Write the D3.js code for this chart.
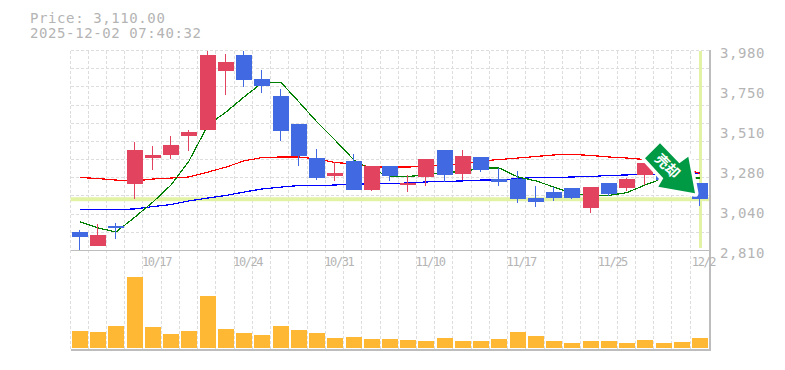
<!DOCTYPE html>
<html>
<head>
<meta charset="utf-8">
<script src="https://cdn.jsdelivr.net/npm/d3@7/dist/d3.min.js"></script>
<style>
html,body{margin:0;padding:0;background:#fff;}
svg{display:block;}
text{font-family:"DejaVu Sans Mono",monospace;fill:#b4b4b4;}
</style>
</head>
<body>
<svg id="c" width="785" height="370"></svg>
<script>
const dates = ["10/10","10/14","10/15","10/16","10/17","10/20","10/21","10/22","10/23","10/24","10/27","10/28","10/29","10/30","10/31","11/4","11/5","11/6","11/7","11/10","11/11","11/12","11/13","11/14","11/17","11/18","11/19","11/20","11/21","11/25","11/26","11/27","11/28","12/1","12/2"];
const opens  = [2918,2836,2953,3199,3351,3369,3480,3515,3860,3954,3813,3714,3550,3351,3246,3334,3164,3304,3193,3240,3398,3257,3357,3228,3228,3117,3152,3176,3059,3205,3176,3252,3281,3240,3205];
const highs  = [2930,2965,2971,3445,3421,3480,3515,3980,3960,3977,3866,3755,3550,3404,3328,3374,3304,3304,3252,3345,3398,3398,3357,3293,3275,3187,3181,3176,3181,3205,3234,3322,3290,3250,3205];
const lows   = [2810,2836,2877,3111,3281,3345,3392,3515,3720,3766,3731,3451,3304,3222,3217,3164,3158,3217,3152,3187,3211,3222,3269,3187,3088,3064,3100,3111,3029,3129,3158,3193,3200,3150,3070];
const closes = [2889,2901,2942,3398,3369,3427,3503,3954,3913,3807,3772,3509,3363,3234,3263,3164,3304,3246,3205,3345,3252,3363,3281,3211,3111,3094,3117,3117,3181,3141,3228,3322,3222,3170,3110];
const maShort = [2977,2942,2918,3006,3094,3193,3334,3544,3620,3708,3790,3793,3679,3562,3456,3339,3281,3246,3243,3252,3269,3269,3293,3293,3240,3217,3181,3146,3129,3132,3149,3193,3234,3234,3234];
const maMid   = [3237,3231,3222,3217,3228,3234,3240,3269,3298,3334,3354,3357,3357,3345,3325,3316,3298,3298,3298,3304,3310,3319,3334,3342,3351,3360,3369,3372,3366,3357,3351,3342,3334,3298,3260];
const maLong  = [3050,3050,3050,3053,3067,3079,3100,3117,3132,3152,3170,3181,3190,3190,3193,3199,3199,3202,3205,3211,3214,3217,3222,3222,3231,3237,3237,3240,3243,3249,3252,3255,3257,3263,3263];
const volumes = [170,160,220,710,210,140,170,520,190,150,130,220,180,150,100,110,90,90,80,70,100,70,70,90,160,120,70,50,70,70,50,80,50,60,100];
const xTickLabels = ["10/17","10/24","10/31","11/10","11/17","11/25","12/2"];
const yTickValues = [2810,3044,3278,3512,3746,3980];
const lastPrice = 3110;
const titleLines = ["Price: 3,110.00","2025-12-02 07:40:32"];
const signalText = "売却";

const L=70.5,R=709.5,T=50.5,B=250.5,VB=348,VT=277,PB=349.5;
const STEP=18.235,OUTER=1.5;
const svg=d3.select("#c");
const x=d3.scaleBand().domain(dates).range([L,R]).paddingInner((STEP-16)/STEP).paddingOuter(OUTER/STEP);
const y=d3.scaleLinear().domain([2810,3980]).range([B,T]);
const v=d3.scaleLinear().domain([0,d3.max(volumes)]).range([VB,VT]);
const cx=d=>x(d)+x.bandwidth()/2;
const snap=n=>Math.round(n);

// grid
const g=svg.append("g").attr("stroke","#dddddd").attr("stroke-dasharray","3 2").attr("shape-rendering","crispEdges");
d3.range(0,35).forEach(i=>{
  const gx=Math.floor(x(dates[i])-1.95)+.5;
  g.append("line").attr("x1",gx).attr("x2",gx).attr("y1",T).attr("y2",PB);
});
d3.range(0,11).forEach(i=>{
  const gy=Math.round(T+i*(B-T)/11-.5)+.5;
  g.append("line").attr("x1",L).attr("x2",R).attr("y1",gy).attr("y2",gy);
});

// last price cross
svg.append("rect").attr("x",L).attr("width",R-L).attr("y",y(lastPrice)-2).attr("height",4).attr("fill","#e3f3a6");
svg.append("rect").attr("x",cx("12/2")-1).attr("width",3).attr("y",51).attr("height",197).attr("fill","#e3f3a6");

// moving averages
const line=d3.line().x((d,i)=>snap(cx(dates[i]))).y(d=>y(d));
[[maLong,"#0000ff"],[maMid,"#ff0000"],[maShort,"#008000"]].forEach(([s,c])=>{
  svg.append("path").attr("d",line(s)).attr("fill","none").attr("stroke",c).attr("stroke-width",1.2).attr("shape-rendering","crispEdges");
});

// candles
const UP="#e2445f",DOWN="#4169e1";
dates.forEach((d,i)=>{
  const c=closes[i]>=opens[i]?UP:DOWN;
  const gp=svg.append("g").attr("shape-rendering","crispEdges");
  const mx=snap(cx(d))-.5;
  gp.append("line").attr("x1",mx).attr("x2",mx).attr("y1",y(highs[i])).attr("y2",y(lows[i])).attr("stroke",c);
  const t=snap(y(Math.max(opens[i],closes[i]))),b=snap(y(Math.min(opens[i],closes[i])));
  gp.append("rect").attr("x",snap(x(d))).attr("width",16).attr("y",t).attr("height",Math.max(1,b-t)).attr("fill",c);
});

// volume
svg.append("g").attr("shape-rendering","crispEdges").selectAll("rect").data(dates).join("rect")
  .attr("x",d=>snap(x(d))).attr("width",16)
  .attr("y",(d,i)=>v(volumes[i])).attr("height",(d,i)=>VB-v(volumes[i])).attr("fill","#ffb833");

// frame
const fr=svg.append("g").attr("stroke","#bdbdbd").attr("shape-rendering","crispEdges");
fr.append("line").attr("x1",L).attr("x2",R+1).attr("y1",B).attr("y2",B);
fr.append("line").attr("x1",L).attr("x2",R+1).attr("y1",PB).attr("y2",PB).attr("stroke-width",2);
fr.append("line").attr("x1",R+.5).attr("x2",R+.5).attr("y1",T-1).attr("y2",PB).attr("stroke-width",1.5);

// axes
const xAxis=d3.axisBottom(x).tickValues(xTickLabels).tickSize(0).tickPadding(7);
const ax=svg.append("g").attr("transform",`translate(3.5,${B})`).call(xAxis);
ax.select(".domain").remove();
ax.selectAll("text").attr("font-size",12).style("letter-spacing","-1.4px").style("font-family",'"DejaVu Sans Mono",monospace').attr("fill","#b4b4b4");
const yAxis=d3.axisRight(y).tickValues(yTickValues).tickSize(0).tickPadding(0)
  .tickFormat(n=>d3.format(",")(Math.round(n/10)*10));
const ay=svg.append("g").attr("transform",`translate(720,0)`).call(yAxis);
ay.select(".domain").remove();
ay.selectAll("text").attr("font-size",14).style("letter-spacing","0.6px").attr("dy","0.5em").style("font-family",'"DejaVu Sans Mono",monospace').attr("fill","#b4b4b4");

// title
svg.selectAll("text.t").data(titleLines).join("text").attr("class","t")
  .attr("x",30).attr("y",(d,i)=>23+i*15).attr("font-size",14).style("letter-spacing","0.6px").text(d=>d);

// arrow signal
const arrow=[[660,143.3],[645,158.3],[663.3,178.3],[658.3,186.7],[695,193.3],[688.3,156.7],[679.3,163.3]];
svg.append("polygon").attr("points",arrow.join(" ")).attr("fill","none").attr("stroke","#fff").attr("stroke-width",7).attr("stroke-linejoin","round");
svg.append("polygon").attr("points",arrow.join(" ")).attr("fill","#009944");
svg.append("text").attr("transform","translate(667.5,166) rotate(45)").attr("text-anchor","middle").attr("dy","0.36em")
  .attr("font-size",14).attr("font-weight","bold").style("fill","#fff").style("font-family",'"Noto Sans CJK JP"').text(signalText);
</script>
</body>
</html>
